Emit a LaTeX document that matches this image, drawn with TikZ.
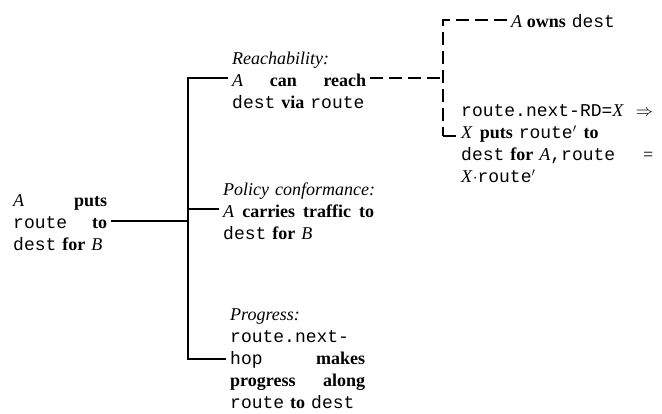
\documentclass[tikz,border=0pt]{standalone}
\usepackage{fontspec}
\setmainfont{Liberation Serif}
\setmonofont{Liberation Mono}
\tikzset{
  txt/.style={inner xsep=4pt, inner ysep=0pt, align=left, anchor=west,
    font=\fontsize{18}{22}\selectfont},
  edge/.style={line width=1.6pt},
  dedge/.style={line width=1.6pt, dash pattern=on 13pt off 6pt},
}
\begin{document}
\begin{tikzpicture}[x=1pt,y=-1pt]
\useasboundingbox (0,0) rectangle (662,413);
\node[txt, text width=94pt] (root) at (9,223)
  {\textit{A}\hfill\textbf{puts}\\ \texttt{route}\hfill\textbf{to}\\ \texttt{dest} \textbf{for} \textit{B}};
\node[txt, text width=134pt] (reach) at (228,80)
  {\textit{Reachability:}\\ \textit{A}\hfill\textbf{can}\hfill\textbf{reach}\\ \mbox{\texttt{dest} \textbf{via} \texttt{route}}};
\node[txt, text width=151pt] (policy) at (219,211)
  {\mbox{\textit{Policy conformance:}}\\ \textit{A}\hfill\textbf{carries}\hfill\textbf{traffic}\hfill\textbf{to}\\ \texttt{dest} \textbf{for} \textit{B}};
\node[txt, text width=135pt] (progress) at (226,359)
  {\textit{Progress:}\\ \texttt{route.next-}\\ \texttt{hop}\hfill\textbf{makes}\\ \textbf{progress}\hfill\textbf{along}\\ \texttt{route} \textbf{to} \texttt{dest}};
\node[txt] (owns) at (507,21)
  {\textit{A}\hspace{4.5pt}\textbf{owns}\hspace{6pt}\texttt{dest}};
\node[txt, text width=192pt] (cond) at (457,144)
  {\texttt{route.next-RD=}\textit{X}\hfill$\Rightarrow$\\
   \textit{X}\hspace{7pt}\textbf{puts} \texttt{route}$'$\hspace{7pt}\textbf{to}\\
   \texttt{dest} \textbf{for} \textit{A}\texttt{,route}\hfill=\\
   \textit{X}$\cdot$\texttt{route}$'$};
\coordinate (tx) at (188,0);
\coordinate (dx) at (443,0);
\coordinate (rootc) at ([yshift=2pt]root.east);
\coordinate (reachw) at ([yshift=2pt]reach.west);
\coordinate (reache) at ([yshift=2pt]reach.east);
\coordinate (policyw) at ([yshift=2pt]policy.west);
\coordinate (progw) at (progress.west);
\coordinate (ownsw) at ([yshift=1pt]owns.west);
\coordinate (cin) at ([yshift=8pt]cond.west);
\coordinate (dcorner) at (dx |- cin);
\draw[edge] (rootc) -- (rootc -| tx);
\draw[edge] (reachw) -| (tx |- progw) -- (progw);
\draw[edge] (policyw) -- (policyw -| tx);
\draw[dedge] (reache) -- (reache -| dx);
\draw[dedge] (ownsw) -| (dcorner);
\draw[dedge] (dcorner) -- (cin);
\end{tikzpicture}
\end{document}
